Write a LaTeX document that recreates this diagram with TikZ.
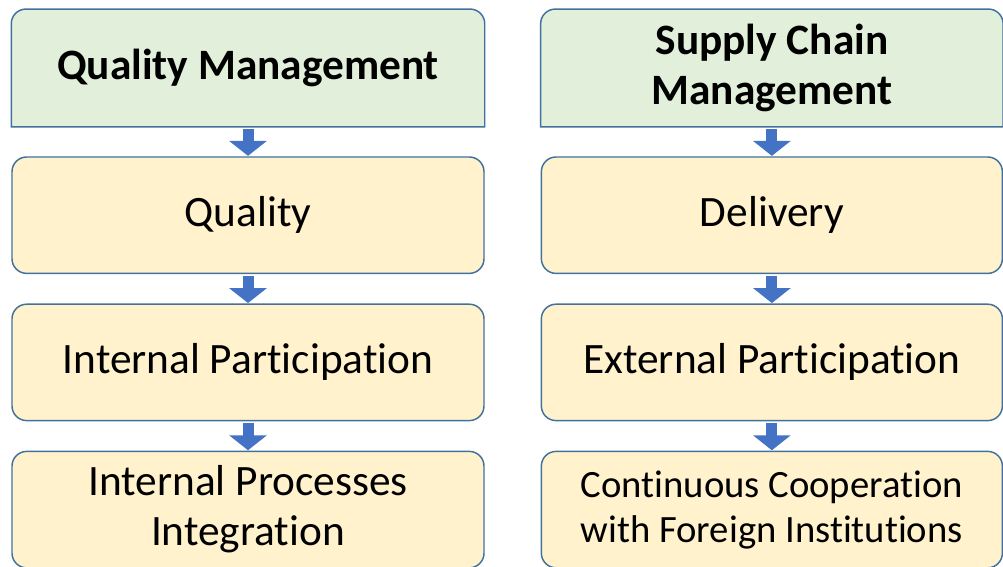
\documentclass[tikz,border=0pt]{standalone}
\usepackage{fontspec}
\setmainfont{Carlito}[RawFeature={-liga;-clig;-dlig}]
\usetikzlibrary{positioning,arrows.meta,backgrounds}
\definecolor{boxline}{HTML}{41719C}
\definecolor{headfill}{HTML}{E2EFDA}
\definecolor{itemfill}{HTML}{FFF2CC}
\definecolor{arrowblue}{HTML}{4472C4}
\begin{document}
\begin{tikzpicture}[
  item/.style={draw=boxline,line width=1.1pt,fill=itemfill,rounded corners=11pt,minimum width=354pt,minimum height=87.3pt,align=center,inner sep=0pt,font=\fontsize{32.5}{37.5}\selectfont},
  head/.style={minimum width=354pt,minimum height=87.3pt,align=center,inner sep=0pt,outer sep=0.55pt,font=\fontsize{32.5}{37.5}\selectfont\bfseries},
  headbox/.style={draw=boxline,line width=1.1pt,fill=headfill},
  flow/.style={arrowblue,line width=8.25pt,-{Triangle[width=27.75pt,length=11.25pt]},shorten <=1.5pt,shorten >=0.3pt},
  node distance=22pt]
\useasboundingbox (0,0) rectangle (752.25pt,-425.25pt);

\node[head] (qm) at (186pt,-51pt) {Quality Management};
\node[item,below=of qm] (ql) {Quality};
\node[item,below=of ql] (ip) {Internal Participation};
\node[item,below=of ip] (ipi) {Internal Processes\\Integration};

\node[head,minimum width=345.75pt] (scm) at (578.9pt,-51pt) {Supply Chain\\Management};
\node[item,minimum width=345.75pt,below=of scm] (dl) {Delivery};
\node[item,minimum width=345.75pt,below=of dl] (ep) {External Participation};
\node[item,minimum width=345.75pt,below=of ep,font=\fontsize{29}{33.75}\selectfont] (ccf) {Continuous Cooperation\\with Foreign Institutions};

\begin{scope}[on background layer]
\draw[headbox] (qm.south west) [rounded corners=11pt] -- (qm.north west) -- (qm.north east) [sharp corners] -- (qm.south east) -- cycle;
\draw[headbox] (scm.south west) [rounded corners=11pt] -- (scm.north west) -- (scm.north east) [sharp corners] -- (scm.south east) -- cycle;
\end{scope}

\draw[flow] (qm) -- (ql);
\draw[flow] (ql) -- (ip);
\draw[flow] (ip) -- (ipi);
\draw[flow] (scm) -- (dl);
\draw[flow] (dl) -- (ep);
\draw[flow] (ep) -- (ccf);
\end{tikzpicture}
\end{document}
